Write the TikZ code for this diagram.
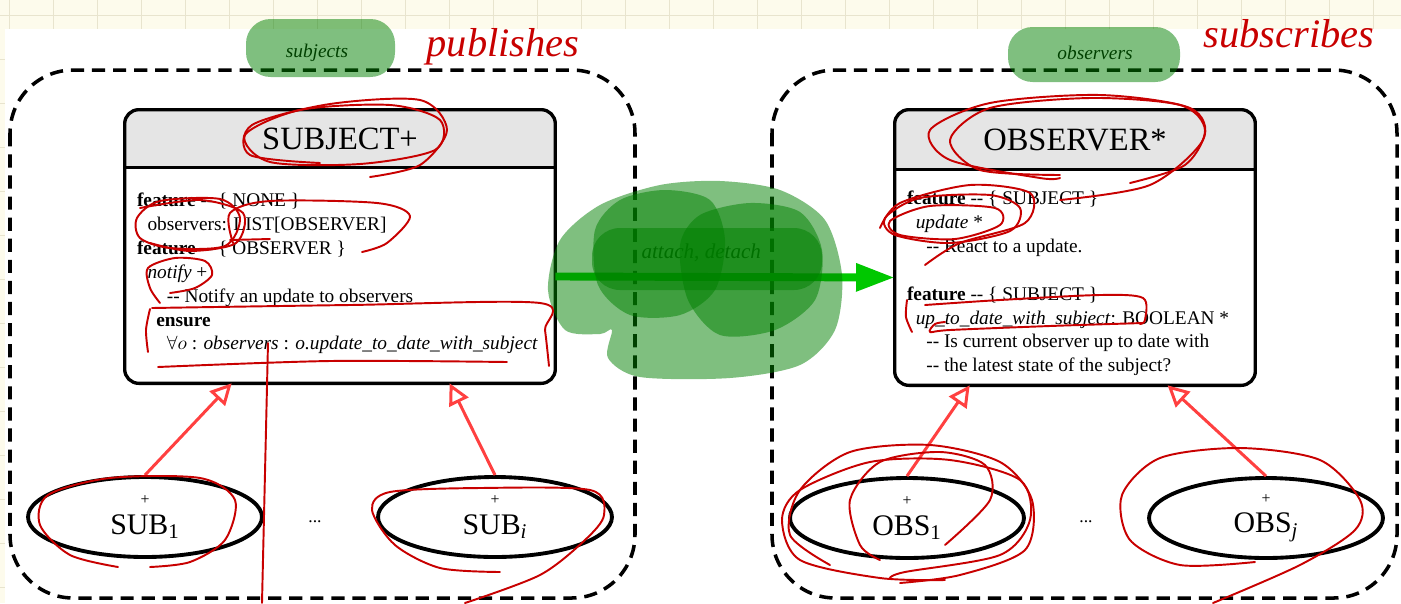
\documentclass[tikz,border=0pt]{standalone}
\usepackage{fontspec}
\setmainfont{Liberation Serif}
\usetikzlibrary{arrows.meta,positioning,shapes.geometric}
\definecolor{paper}{RGB}{253,251,236}
\definecolor{gridline}{RGB}{232,228,206}
\definecolor{headgray}{RGB}{229,229,229}
\definecolor{inhred}{RGB}{255,64,64}
\definecolor{linkgreen}{RGB}{0,200,0}
\definecolor{marker}{RGB}{0,128,0}
\definecolor{pen}{RGB}{200,0,0}
\tikzset{
  groupbox/.style={line width=2pt,dash pattern=on 7.5pt off 4.5pt,rounded corners=36pt},
  classbox/.style={fill=white,inner sep=0pt},
  classline/.style={line width=1.9pt,rounded corners=8pt},
  classtitle/.style={font=\fontsize{18.5}{20}\selectfont},
  body/.style={align=left,inner sep=0pt,font=\fontsize{11}{13.6}\selectfont},
  objell/.style={ellipse,draw,line width=2.2pt,minimum width=4.68cm,minimum height=1.6cm,
    inner sep=0pt,align=center,font=\fontsize{17}{14}\selectfont},
  inherit/.style={draw=inhred,line width=1.7pt,-{Triangle[open,length=12pt,width=12pt]}},
  assoc/.style={draw=linkgreen,line width=4.5pt,-{Triangle[length=22pt,width=15pt]}},
  grouplbl/.style={font=\fontsize{11}{12}\selectfont\itshape},
  hilite/.style={fill=marker,opacity=.5},
  pen/.style={draw=pen,line width=1.1pt,line cap=round,line join=round},
  scrawl/.style={text=pen,font=\fontsize{23}{24}\selectfont\itshape}
}
\begin{document}
\begin{tikzpicture}[x=0.02cm,y=-0.02cm]
\useasboundingbox (0,0) rectangle (1401,603);
\fill[paper] (0,0) rectangle (1401,603);
\foreach \gx in {0,...,31} \draw[gridline] (9.6+44*\gx,0) -- (9.6+44*\gx,603);
\foreach \gy in {0,...,13} \draw[gridline] (0,15+44*\gy) -- (1401,15+44*\gy);
\fill[white] (5,29) rectangle (1401,603);

\draw[groupbox] (10,70) rectangle (635,598);
\draw[groupbox] (772,70) rectangle (1397,598);

\node[classbox,minimum width=8.6cm,minimum height=5.46cm] (subj) at (340,246.5) {};
\begin{scope}
\clip[rounded corners=8pt] (subj.north west) rectangle (subj.south east);
\fill[headgray] (subj.north west) rectangle ([yshift=-1.16cm]subj.north east);
\end{scope}
\draw[line width=1.6pt] ([yshift=-1.16cm]subj.north west) -- ([yshift=-1.16cm]subj.north east);
\draw[classline] (subj.north west) rectangle (subj.south east);
\node[classtitle] (subjtitle) at ([yshift=-0.58cm]subj.north) {SUBJECT+};
\node[body,anchor=north west] (subjbody) at ([xshift=0.24cm,yshift=-1.66cm]subj.north west) {%
\textbf{feature} {-}{-} \{ NONE \}\\
\hspace*{6pt}observers: LIST[OBSERVER]\\
\textbf{feature} {-}{-} \{ OBSERVER \}\\
\hspace*{6pt}\textit{notify} +\\
\hspace*{17pt}{-}{-} Notify an update to observers\\
\hspace*{11pt}\textbf{ensure}\\
\hspace*{17pt}$\forall o$ : \textit{observers} : \textit{o.update\_to\_date\_with\_subject}};

\node[classbox,minimum width=7.2cm,minimum height=5.5cm] (obs) at (1075,247.5) {};
\begin{scope}
\clip[rounded corners=8pt] (obs.north west) rectangle (obs.south east);
\fill[headgray] (obs.north west) rectangle ([yshift=-1.2cm]obs.north east);
\end{scope}
\draw[line width=1.6pt] ([yshift=-1.2cm]obs.north west) -- ([yshift=-1.2cm]obs.north east);
\draw[classline] (obs.north west) rectangle (obs.south east);
\node[classtitle] (obstitle) at ([yshift=-0.6cm]obs.north) {OBSERVER*};
\node[body,anchor=north west] (obsbody) at ([xshift=0.24cm,yshift=-1.62cm]obs.north west) {%
\textbf{feature} {-}{-} \{ SUBJECT \}\\
\hspace*{5pt}\textit{update} *\\
\hspace*{11pt}{-}{-} React to a update.\\[13.6pt]
\textbf{feature} {-}{-} \{ SUBJECT \}\\
\hspace*{5pt}\textit{up\_to\_date\_with\_subject}: BOOLEAN *\\
\hspace*{11pt}{-}{-} Is current observer up to date with\\
\hspace*{11pt}{-}{-} the latest state of the subject?};

\node[objell] (sub1) at (145,517) {{\fontsize{9}{9}\selectfont +}\\[3pt]SUB\textsubscript{1}};
\node[objell] (subi) at (495,517) {{\fontsize{9}{9}\selectfont +}\\[3pt]SUB\textsubscript{\textit{i}}};
\node[objell] (obs1) at (907,518) {{\fontsize{9}{9}\selectfont +}\\[3pt]OBS\textsubscript{1}};
\node[objell] (obsj) at (1266,518) {{\fontsize{9}{9}\selectfont +}\\[3pt]OBS\textsubscript{\textit{j}}};
\node (subdots) at (315,522) {...};
\node (obsdots) at (1086,522) {...};

\draw[inherit] (sub1.north) -- ([xshift=2.14cm]subj.south west);
\draw[inherit] (subi.north) -- ([xshift=6.5cm]subj.south west);
\draw[inherit] (obs1.north) -- ([xshift=1.5cm]obs.south west);
\draw[inherit] (obsj.north) -- ([xshift=5.46cm]obs.south west);

\draw[assoc] ([yshift=-0.6cm]subj.east) -- ([yshift=-0.6cm]obs.west)
  node[pos=0.43,above=3pt,font=\fontsize{12}{13}\selectfont\itshape] (attach) {attach, detach};

\node[grouplbl] (subjects) at (317,53) {subjects};
\node[grouplbl] (observers) at (1095,53) {observers};

\fill[hilite,rounded corners=14pt] (246,19) rectangle (395,77);
\fill[hilite,rounded corners=14pt] (1008,27) rectangle (1180,82);
\fill[hilite] plot[smooth cycle] coordinates {(548,290) (560,240) (600,205) (660,185) (720,181) (780,190) (825,220) (842,275) (835,330) (800,365) (730,378) (640,377) (608,358) (612,330) (600,334) (565,330)};
\fill[hilite] plot[smooth cycle] coordinates {(595,230) (620,200) (665,190) (710,200) (725,240) (715,290) (680,315) (630,315) (598,285)};
\fill[hilite] plot[smooth cycle] coordinates {(680,245) (700,215) (750,203) (800,212) (822,250) (815,300) (775,330) (720,335) (688,300)};
\fill[hilite,rounded corners=16pt] (592,228) rectangle (822,290);

\draw[pen] plot[smooth] coordinates {(320,163) (250,155) (252,125) (330,104) (420,100) (447,130) (420,165) (370,177)};
\draw[pen] plot[smooth cycle] coordinates {(245,135) (300,110) (390,105) (440,120) (435,150) (360,164) (270,162)};
\draw[pen] plot[smooth cycle] coordinates {(137,218) (160,201) (220,199) (240,218) (225,246) (170,248) (140,238)};
\draw[pen] plot[smooth] coordinates {(140,208) (200,200) (243,213) (236,243) (190,251) (150,243)};
\draw[pen] plot[smooth] coordinates {(233,243) (230,213) (270,201) (377,203) (410,216) (387,243) (362,252)};
\draw[pen] (230,240) -- (270,239);
\draw[pen] plot[smooth] coordinates {(160,303) (150,288) (148,268) (175,258) (205,261) (212,275) (195,288) (170,293)};
\draw[pen] plot[smooth] coordinates {(148,352) (146,330) (150,309)};
\draw[pen] plot[smooth] coordinates {(152,308) (350,305) (540,303) (545,330) (549,366)};
\draw[pen] plot[smooth] coordinates {(158,367) (330,361) (507,362)};
\draw[pen] (268,343) -- (262,603);
\draw[pen] plot[smooth] coordinates {(118,567) (70,555) (40,525) (48,495) (110,478) (200,478) (235,500) (225,540) (190,562) (150,567)};
\draw[pen] plot[smooth] coordinates {(500,572) (440,568) (395,545) (372,510) (390,492) (480,488) (590,490) (604,515) (585,540) (540,575) (465,603)};
\draw[pen] plot[smooth] coordinates {(1060,200) (1150,185) (1203,140) (1190,108) (1100,95) (990,103) (930,130) (950,160) (1040,178) (1060,178)};
\draw[pen] plot[smooth] coordinates {(1060,175) (980,170) (950,140) (990,108) (1090,98) (1180,105) (1205,130) (1185,165) (1130,183)};
\draw[pen] plot[smooth cycle] coordinates {(885,218) (920,198) (990,195) (1020,208) (1010,231) (950,243) (895,235)};
\draw[pen] plot[smooth] coordinates {(880,228) (900,203) (970,185) (1030,193) (1025,223) (960,243) (925,265)};
\draw[pen] plot[smooth cycle] coordinates {(890,221) (930,206) (995,208) (1000,225) (955,239) (900,235)};
\draw[pen] plot[smooth] coordinates {(907,300) (906,317) (912,332)};
\draw[pen] plot[smooth] coordinates {(925,305) (1000,300) (1100,295) (1143,298) (1145,320) (1140,324)};
\draw[pen] plot[smooth] coordinates {(1143,323) (1050,326) (950,330) (930,332) (935,324) (945,322)};
\draw[pen] plot[smooth] coordinates {(945,580) (880,578) (800,560) (782,520) (800,490) (870,462) (950,460) (1020,480) (1030,520) (1000,555) (905,572) (890,578)};
\draw[pen] plot[smooth] coordinates {(900,583) (960,575) (1025,550) (1032,500) (1000,462) (930,445) (850,452) (800,490) (790,535) (830,565)};
\draw[pen] plot[smooth] coordinates {(945,545) (990,500) (985,465) (940,452) (880,462) (850,500) (860,545) (880,560)};
\draw[pen] plot[smooth] coordinates {(1255,562) (1180,565) (1130,540) (1122,495) (1160,458) (1240,448) (1320,460) (1360,500) (1355,530) (1300,565) (1213,603)};

\node[scrawl,anchor=base] (publishes) at (503,56) {publishes};
\node[scrawl,anchor=base] (subscribes) at (1289,47) {subscribes};
\end{tikzpicture}
\end{document}
